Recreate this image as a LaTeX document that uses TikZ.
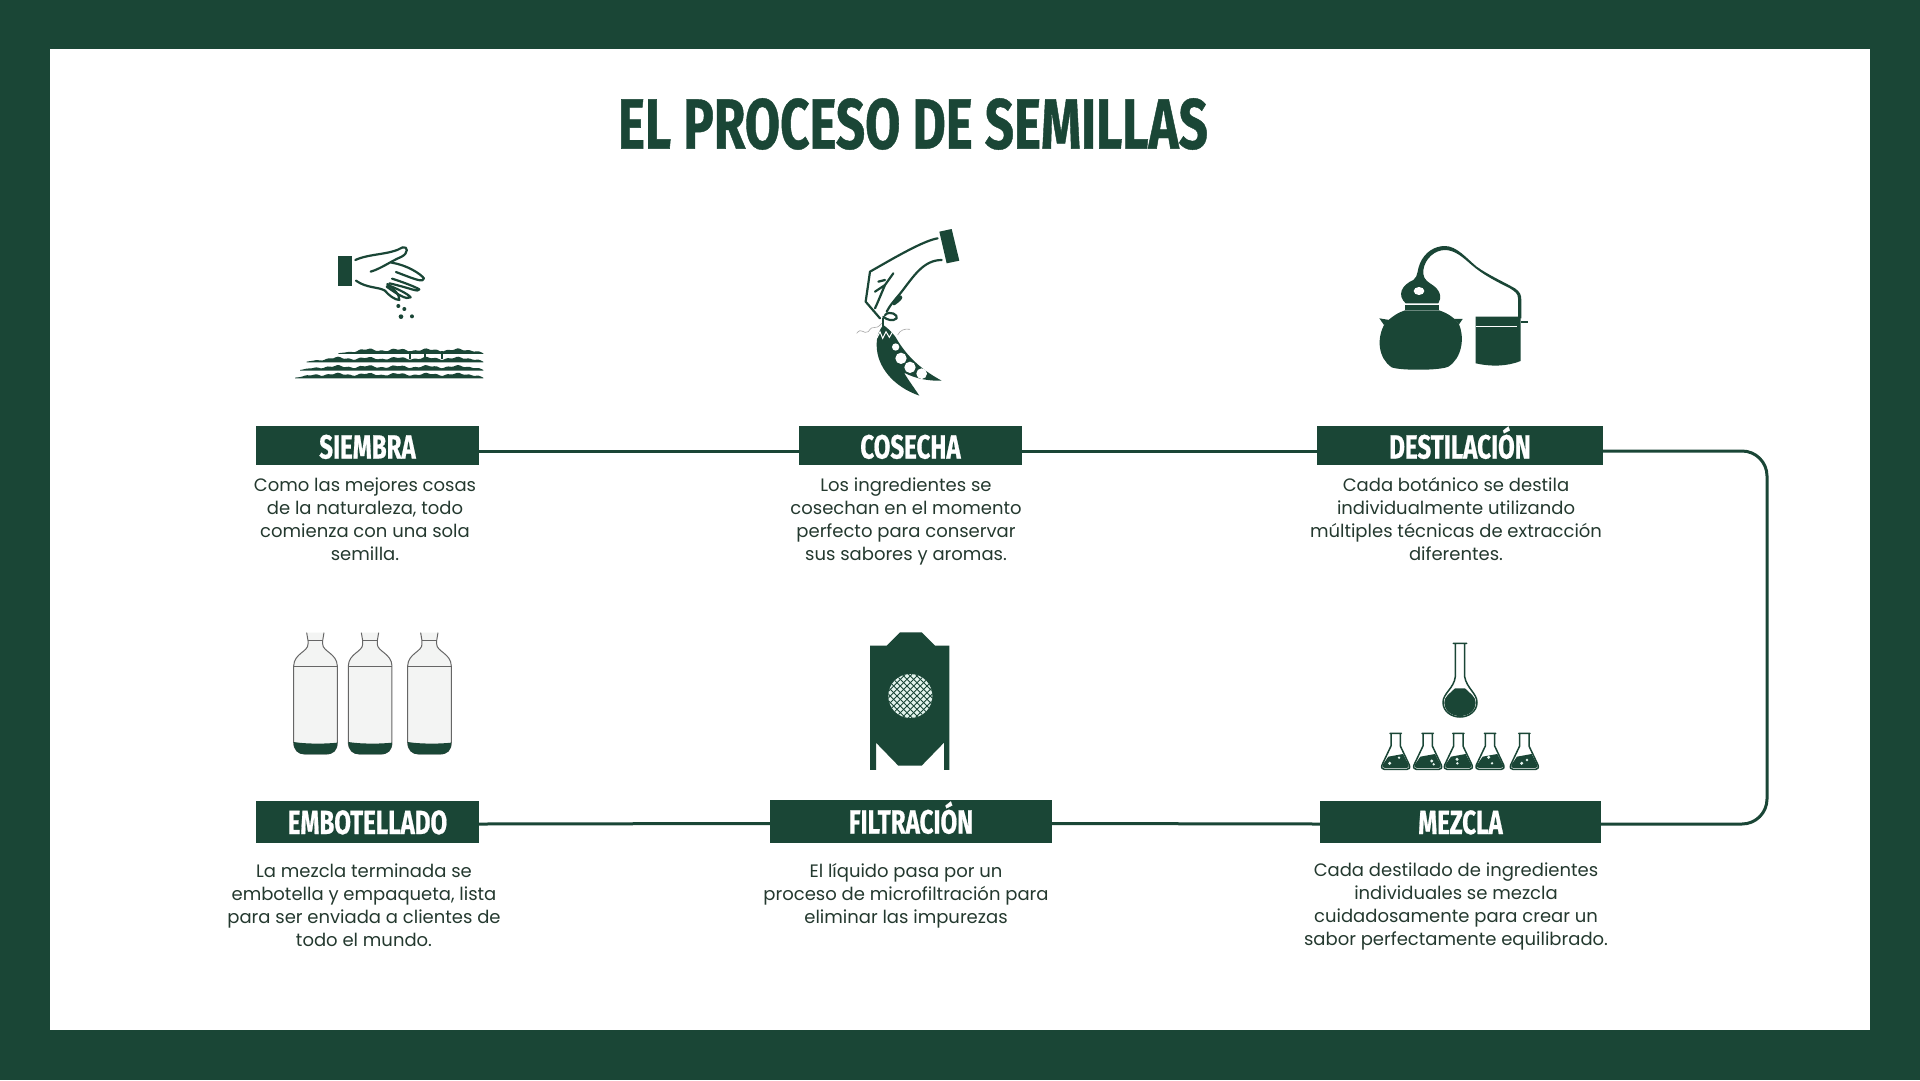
\documentclass[tikz,border=0pt]{standalone}
\usepackage{fontspec}
\setmainfont{Poppins}
\newfontfamily\headfont[FakeStretch=0.72,FakeBold=0.6,UprightFont={* Bold}]{Fira Sans}
\usetikzlibrary{positioning}
\definecolor{ink}{HTML}{1A4636}
\definecolor{bodyink}{HTML}{24392F}
\definecolor{glass}{HTML}{F3F4F3}
\definecolor{mesh}{HTML}{E4F4EE}

% Surco del campo sembrado
\newcommand{\furrow}[3]{\fill[ink] plot[domain=#1:#2,samples=80] (\x,{#3-(10+3*sin(\x*4)+2*sin(\x*11))*min(1,(\x-#1)/70,(#2-\x)/25)}) -- (#2,#3+2) -- (#1,#3+2) -- cycle;}

\begin{document}
\begin{tikzpicture}[x=1pt, y=-1pt,
  stage/.style={rectangle, fill=ink, text=white, inner sep=0pt, minimum height=39pt, text height=27pt, text depth=0pt, font=\fontsize{33.5}{35}\selectfont\headfont},
  stage low/.style={stage, minimum height=42pt, text height=24pt},
  desc/.style={align=center, inner sep=0pt, text=bodyink, font=\fontsize{18}{23}\selectfont},
  link/.style={draw=ink, line width=3pt},
  icon/.style={shift={(#1)}, x=0.3333pt, y=-0.3333pt},
  stroke/.style={draw=ink, line width=2.2pt, line cap=round, line join=round, fill=none},
  thin stroke/.style={draw=ink, line width=1.5pt, line cap=round, line join=round}
]
% Marco
\useasboundingbox (0,0) rectangle (1920,1080);
\fill[ink] (0,0) rectangle (1920,1080);
\fill[white] (50,49) rectangle (1870,1030);
\node[font=\fontsize{71}{71}\selectfont\headfont, text=ink, inner sep=0pt] (title) at (913,124) {EL PROCESO DE SEMILLAS};
% Etapas
\node[stage, minimum width=223pt] (siembra) at (367.5,445) {SIEMBRA};
\node[stage, minimum width=223pt] (cosecha) at (910.5,445) {COSECHA};
\node[stage, minimum width=286pt] (destilacion) at (1460,445) {DESTILACIÓN};
\node[stage low, minimum width=223pt] (embotellado) at (367.5,822) {EMBOTELLADO};
\node[stage low, minimum width=282pt, minimum height=43pt] (filtracion) at (911,821.5) {FILTRACIÓN};
\node[stage low, minimum width=281pt] (mezcla) at (1460.5,822) {MEZCLA};
% Textos
\node[desc] (siembratxt) at (365,519) {Como las mejores cosas\\de la naturaleza, todo\\comienza con una sola\\semilla.};
\node[desc] (cosechatxt) at (906,521.5) {Los ingredientes se\\cosechan en el momento\\perfecto para conservar\\sus sabores y aromas.};
\node[desc] (destilaciontxt) at (1456,519) {Cada botánico se destila\\individualmente utilizando\\múltiples técnicas de extracción\\diferentes.};
\node[desc] (embotelladotxt) at (364,905) {La mezcla terminada se\\embotella y empaqueta, lista\\para ser enviada a clientes de\\todo el mundo.};
\node[desc] (filtraciontxt) at (906,895.5) {El líquido pasa por un\\proceso de microfiltración para\\eliminar las impurezas};
\node[desc] (mezclatxt) at (1456,906) {Cada destilado de ingredientes\\individuales se mezcla\\cuidadosamente para crear un\\sabor perfectamente equilibrado.};
% Flujo
\coordinate (turn) at (1767,640);
\draw[link] ([yshift=-6pt]siembra.east) -- ([yshift=-6pt]cosecha.west);
\draw[link] ([yshift=-6pt]cosecha.east) -- ([yshift=-6pt]destilacion.west);
\draw[link, rounded corners=25pt] ([yshift=-6pt]destilacion.east) -| (turn) |- ([yshift=-2pt]mezcla.east);
\draw[link] ([yshift=-2pt]mezcla.west) -- ([yshift=-2pt]filtracion.east);
\draw[link] ([yshift=-2pt]filtracion.west) -- ([yshift=-2pt]embotellado.east);
% Icono siembra
\begin{scope}[icon={270,220}]
  \fill[ink] (205,108) rectangle (245,197);
  \draw[stroke] (256,120) .. controls (300,100) and (360,105) .. (398,82) .. controls (415,78) and (415,100) .. (395,110) .. controls (360,125) and (335,145) .. (302,155);
  \draw[stroke] (365,128) .. controls (410,135) and (450,160) .. (462,175) .. controls (460,188) and (440,180) .. (378,156);
  \draw[stroke] (366,176) .. controls (395,185) and (435,200) .. (448,208) .. controls (445,218) and (425,205) .. (358,190);
  \draw[stroke] (352,195) .. controls (380,205) and (415,222) .. (422,232) .. controls (410,240) and (385,225) .. (350,200);
  \draw[stroke] (258,182) .. controls (290,205) and (325,200) .. (345,212) .. controls (355,225) and (375,240) .. (388,240) .. controls (390,225) and (370,205) .. (352,192);
  \fill[ink] (385,258) circle (6) (403,267) circle (6) (393,290) circle (7) (426,289) circle (6);
  \furrow{205}{640}{400}
  \furrow{110}{640}{425}
  \furrow{90}{640}{450}
  \furrow{75}{640}{473}
  \foreach \sx in {420,465,517} \fill[ink] (\sx-3,392) rectangle (\sx+3,416);
\end{scope}
% Icono cosecha
\begin{scope}[icon={830,220}]
  \fill[ink] (328,35) -- (365,27) -- (388,122) -- (350,130) -- cycle;
  \draw[stroke] (323,55) .. controls (280,62) and (190,115) .. (120,155) -- (107,245) -- (150,295);
  \draw[stroke] (335,120) .. controls (280,120) and (250,170) .. (215,215) .. controls (195,240) and (180,255) .. (170,275);
  \draw[stroke] (190,160) -- (165,195) -- (135,215);
  \draw[stroke] (165,180) -- (145,185);
  \draw[stroke] (165,195) .. controls (150,230) and (140,255) .. (135,265);
  \draw[stroke] (165,285) .. controls (180,270) and (205,285) .. (200,295) .. controls (190,305) and (170,300) .. (160,290);
  \draw[stroke] (160,295) -- (160,318);
  \fill[ink] (205,225) .. controls (220,225) and (225,235) .. (195,255) .. controls (185,260) and (185,245) .. (205,225) -- cycle;
  \fill[ink] (160,315) .. controls (148,330) and (140,345) .. (140,375) .. controls (140,440) and (190,500) .. (268,527) .. controls (250,500) and (235,480) .. (222,458) .. controls (260,478) and (300,483) .. (335,482) .. controls (285,455) and (240,420) .. (205,365) .. controls (195,345) and (180,330) .. (160,315) -- cycle;
  \fill[white] (197,381) circle (11) (213,415) circle (17) (240,442) circle (17) (275,461) circle (16);
  \draw[white, line width=1pt] (140,355) -- (150,335) -- (158,355) -- (168,335) -- (178,352) -- (188,335);
  \draw[gray!70, line width=0.6pt] (80,340) .. controls (95,320) and (100,345) .. (115,335) .. controls (130,310) and (135,335) .. (155,310);
  \draw[gray!70, line width=0.6pt] (203,345) .. controls (210,330) and (225,325) .. (240,328);
\end{scope}
% Icono destilación
\begin{scope}[icon={1360,235}]
  \fill[ink] (135,226) -- (237,226) .. controls (265,235) and (285,250) .. (297,268) .. controls (315,310) and (305,370) .. (265,395) .. controls (240,407) and (120,407) .. (95,397) .. controls (55,370) and (48,310) .. (75,265) .. controls (95,245) and (115,232) .. (135,226) -- cycle;
  \fill[ink] (58,250) -- (88,255) -- (72,270) -- cycle (308,252) -- (282,252) -- (297,268) -- cycle;
  \fill[ink] (135,211) rectangle (237,224);
  \fill[ink] (137,205) .. controls (110,180) and (125,150) .. (160,135) .. controls (175,125) and (172,100) .. (180,85) .. controls (195,50) and (225,33) .. (255,33) .. controls (290,33) and (320,70) .. (350,95) .. controls (385,120) and (430,140) .. (465,160) .. controls (480,170) and (484,180) .. (484,195) -- (484,250) -- (474,250) -- (474,190) .. controls (474,175) and (465,170) .. (450,160) .. controls (410,140) and (370,120) .. (335,90) .. controls (310,68) and (285,45) .. (255,45) .. controls (225,45) and (195,70) .. (190,105) .. controls (188,125) and (195,135) .. (210,145) .. controls (245,165) and (245,190) .. (235,205) -- cycle;
  \fill[white] (177,168) ellipse (16 and 12);
  \fill[ink] (347,245) -- (482,245) -- (482,378) .. controls (440,395) and (390,395) .. (347,385) -- cycle;
  \fill[ink] (482,257) rectangle (503,263);
  \draw[white, line width=0.8pt] (347,273) -- (470,273);
\end{scope}
% Icono embotellado
\begin{scope}[icon={280,620}]
  \foreach \cx in {106,270,448} {
    \begin{scope}[xshift=\cx*0.3333pt]
      \draw[draw=black!60, line width=1pt, fill=glass] (-26,38) -- (-22,62) -- (-22,72) .. controls (-21,95) and (-64,100) .. (-65,138) -- (-65,365) .. controls (-65,390) and (-51,402) .. (-31,402) -- (31,402) .. controls (54,402) and (66,390) .. (66,365) -- (66,138) .. controls (65,100) and (22,95) .. (22,72) -- (22,62) -- (26,38);
      \fill[ink] (-65,366) .. controls (-30,372) and (30,372) .. (66,368) .. controls (66,392) and (54,403) .. (31,403) -- (-31,403) .. controls (-51,403) and (-65,392) .. (-65,366) -- cycle;
      \draw[draw=black!60, line width=1pt] (-65,140) -- (66,140) (-22,62) -- (22,62);
    \end{scope}
  }
\end{scope}
% Icono filtración
\begin{scope}[icon={850,620}]
  \fill[ink] (150,37) -- (215,37) -- (255,77) -- (298,77) -- (298,450) -- (282,450) -- (282,368) -- (215,437) -- (145,437) -- (78,368) -- (78,450) -- (60,450) -- (60,77) -- (110,77) -- cycle;
  \fill[mesh] (181,228) circle (66);
  \begin{scope}
    \clip (181,228) circle (66);
    \foreach \d in {-100,-80,...,100} {
      \draw[ink, line width=0.9pt] (181+\d-80,228-80) -- (181+\d+80,228+80);
      \draw[ink, line width=0.9pt] (181+\d-80,228+80) -- (181+\d+80,228-80);
    }
  \end{scope}
\end{scope}
% Icono mezcla
\begin{scope}[icon={1370,630}]
  \fill[ink] (255,175) -- (285,175) .. controls (300,190) and (317,200) .. (317,217) .. controls (317,243) and (295,258) .. (270,258) .. controls (245,258) and (223,243) .. (223,217) .. controls (223,200) and (240,190) .. (255,175) -- cycle;
  \draw[thin stroke] (250,40) -- (290,40) (284,40) -- (284,140) .. controls (290,175) and (321,190) .. (321,217) .. controls (321,245) and (295,261) .. (270,261) .. controls (245,261) and (219,245) .. (219,217) .. controls (219,190) and (252,175) .. (256,140) -- (256,40);
  \foreach \cx/\ax/\ay/\bx/\by in {77/-18/400/10/383,173/12/393/18/403,265/-4/388/-3/400,360/-4/382/6/400,463/-8/400/8/390} {
    \begin{scope}[xshift=\cx*0.3333pt]
      \fill[ink] (-22,380) -- (22,372) -- (38,403) .. controls (41,412) and (38,414) .. (32,414) -- (-32,414) .. controls (-38,414) and (-41,412) .. (-38,403) -- cycle;
      \draw[thin stroke] (-17,310) -- (17,310) (14,310) -- (14,348) -- (41,405) .. controls (44,414) and (40,418) .. (34,418) -- (-34,418) .. controls (-40,418) and (-44,414) .. (-41,405) -- (-14,348) -- (-14,310);
      \fill[mesh] (\ax,\ay) circle (5) (\bx,\by) circle (4);
    \end{scope}
  }
\end{scope}
\end{tikzpicture}
\end{document}
